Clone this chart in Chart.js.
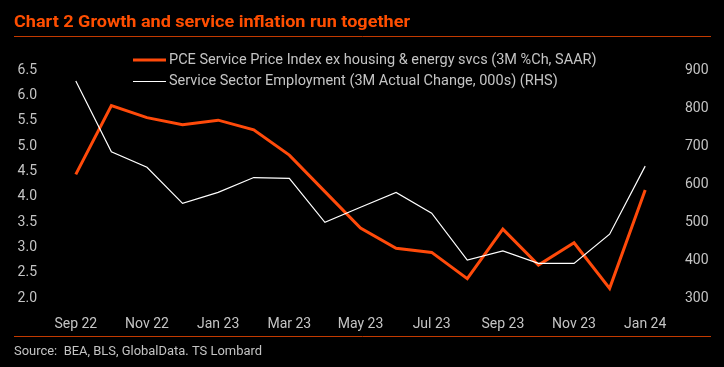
<!DOCTYPE html>
<html>
<head>
<meta charset="utf-8">
<script src="https://cdn.jsdelivr.net/npm/chart.js@4.4.1/dist/chart.umd.min.js"></script>
<style>
html, body { margin: 0; padding: 0; background: #000; }
#wrap { position: relative; width: 724px; height: 367px; }
</style>
</head>
<body>
<div id="wrap"><canvas id="myChart" width="724" height="367"></canvas></div>
<script>
// months, monthly
var labels = ['Sep 22', 'Oct 22', 'Nov 22', 'Dec 22', 'Jan 23', 'Feb 23', 'Mar 23', 'Apr 23', 'May 23',
    'Jun 23', 'Jul 23', 'Aug 23', 'Sep 23', 'Oct 23', 'Nov 23', 'Dec 23', 'Jan 24'];
// PCE services ex housing & energy, 3M %ch saar (LHS)
var pce = [4.44, 5.80, 5.56, 5.42, 5.51, 5.32, 4.82, 4.10, 3.38, 2.98, 2.90, 2.38, 3.36, 2.65, 3.09, 2.19, 4.13];
// service sector employment, 3M change, 000s (RHS)
var employment = [871, 685, 644, 549, 578, 617, 615, 499, 539, 578, 523, 400, 424, 391, 391, 468, 647];
var leftTicks = [2.0, 6.5, 0.5];
var rightTicks = [300, 900, 100];

var orange = '#ff4a0a';
var grey = '#c4c4c4';

var legendItems = [
    { text: 'PCE Service Price Index ex housing & energy svcs (3M %Ch, SAAR)', color: orange, width: 3 },
    { text: 'Service Sector Employment (3M Actual Change, 000s) (RHS)', color: '#ffffff', width: 1.2 }
];

// draws text squeezed/stretched to a given width
function fitText(ctx, s, x, y, width) {
    var w = ctx.measureText(s).width;
    ctx.save();
    ctx.translate(x, y);
    ctx.scale(width / w, 1);
    ctx.fillText(s, 0, 0);
    ctx.restore();
}

// title, rules, legend and source drawn on the canvas
var decor = {
    id: 'decor',
    afterDraw: function (chart) {
        var ctx = chart.ctx;
        ctx.save();
        ctx.textBaseline = 'alphabetic';
        // title
        ctx.fillStyle = '#ff4e00';
        ctx.font = 'bold 16px Roboto';
        fitText(ctx, 'Chart 2 Growth and service inflation run together', 14, 27, 396);
        // rules
        ctx.strokeStyle = '#c23a00';
        ctx.lineWidth = 1;
        ctx.beginPath();
        ctx.moveTo(14, 36.5); ctx.lineTo(711, 36.5);
        ctx.moveTo(14, 336.5); ctx.lineTo(711, 336.5);
        ctx.stroke();
        // source
        ctx.fillStyle = grey;
        ctx.font = '12.5px Roboto';
        fitText(ctx, 'Source:  BEA, BLS, GlobalData. TS Lombard', 14, 355, 248);
        // legend
        ctx.font = '14.5px Roboto';
        ctx.textBaseline = 'middle';
        legendItems.forEach(function (it, i) {
            var y = 60 + i * 21.5;
            ctx.strokeStyle = it.color;
            ctx.lineWidth = it.width;
            ctx.beginPath();
            ctx.moveTo(133, y); ctx.lineTo(166, y);
            ctx.stroke();
            ctx.fillStyle = grey;
            ctx.fillText(it.text, 169, y);
        });
        ctx.restore();
    }
};

var ctx = document.getElementById('myChart').getContext('2d');
var myChart = new Chart(ctx, {
    type: 'line',
    data: {
        labels: labels,
        datasets: [{
            label: legendItems[1].text,
            data: employment,
            yAxisID: 'y1',
            borderColor: '#ffffff',
            borderWidth: 1.2,
            pointRadius: 0,
            tension: 0
        }, {
            label: legendItems[0].text,
            data: pce,
            yAxisID: 'y',
            borderColor: orange,
            borderWidth: 3,
            pointRadius: 0,
            tension: 0
        }]
    },
    options: {
        responsive: false,
        animation: false,
        layout: { padding: { top: 70, left: 0, right: 0, bottom: 0 } },
        plugins: { legend: { display: false }, tooltip: { enabled: false } },
        scales: {
            x: {
                offset: true,
                grid: { display: false },
                border: { display: false },
                ticks: {
                    color: grey, font: { family: 'Roboto', size: 14 }, padding: 10,
                    autoSkip: false, maxRotation: 0,
                    callback: function (v, i) { return i % 2 === 0 ? labels[i] : ''; }
                },
                afterFit: function (s) { s.height = 69; }
            },
            y: {
                position: 'left',
                min: leftTicks[0], max: leftTicks[1],
                grid: { display: false },
                border: { display: false },
                ticks: {
                    stepSize: leftTicks[2], color: grey, font: { family: 'Roboto', size: 14 }, padding: 13,
                    callback: function (v) { return v.toFixed(1); }
                },
                afterFit: function (s) { s.width = 58; }
            },
            y1: {
                position: 'right',
                min: rightTicks[0], max: rightTicks[1],
                grid: { display: false },
                border: { display: false },
                ticks: {
                    stepSize: rightTicks[2], color: grey, font: { family: 'Roboto', size: 14 }, padding: 14
                },
                afterFit: function (s) { s.width = 61; }
            }
        }
    },
    plugins: [decor]
});
</script>
</body>
</html>
